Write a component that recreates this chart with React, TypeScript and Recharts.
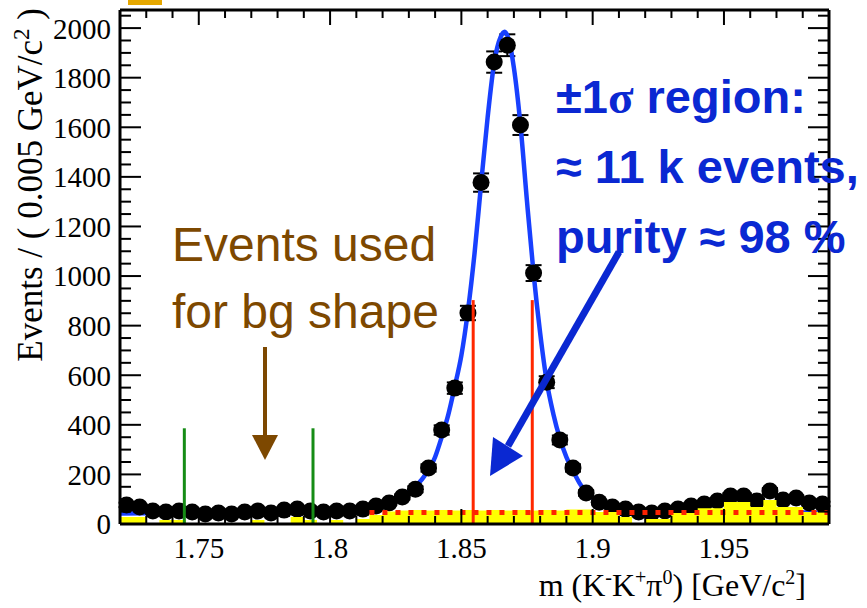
import { ComposedChart, XAxis, YAxis, Line, Area, Scatter, ErrorBar, ReferenceLine } from 'recharts';

const W = 867;
const H = 608;

// mass bins, 0.005 GeV/c^2 wide (bin centres)
const binCenters = [
  1.7225, 1.7275, 1.7325, 1.7375, 1.7425, 1.7475, 1.7525, 1.7575, 1.7625, 1.7675,
  1.7725, 1.7775, 1.7825, 1.7875, 1.7925, 1.7975, 1.8025, 1.8075, 1.8125, 1.8175,
  1.8225, 1.8275, 1.8325, 1.8375, 1.8425, 1.8475, 1.8525, 1.8575, 1.8625, 1.8675,
  1.8725, 1.8775, 1.8825, 1.8875, 1.8925, 1.8975, 1.9025, 1.9075, 1.9125, 1.9175,
  1.9225, 1.9275, 1.9325, 1.9375, 1.9425, 1.9475, 1.9525, 1.9575, 1.9625, 1.9675,
  1.9725, 1.9775, 1.9825, 1.9875,
];

// data counts per bin
const counts = [
  77, 69, 52, 48, 52, 48, 40, 44, 40, 48,
  52, 44, 56, 60, 52, 48, 52, 52, 60, 73,
  85, 109, 140, 226, 379, 548, 851, 1377, 1863, 1931,
  1609, 1012, 572, 339, 226, 125, 88, 69, 60, 48,
  44, 52, 60, 73, 81, 93, 113, 113, 93, 133,
  97, 105, 85, 81,
];

const countErrors = [
  9, 8, 7, 7, 7, 7, 6, 7, 6, 7,
  7, 7, 7, 8, 7, 7, 7, 7, 8, 9,
  9, 10, 12, 15, 19, 23, 29, 37, 43, 44,
  40, 32, 24, 18, 15, 11, 9, 8, 8, 7,
  7, 7, 8, 9, 9, 10, 11, 11, 10, 12,
  10, 10, 9, 9,
];

// background shape histogram (yellow)
const bgShape = [
  28, 28, 0, 16, 16, 0, 0, 0, 0, 0,
  16, 0, 0, 28, 16, 0, 16, 0, 20, 36,
  50, 54, 56, 54, 56, 54, 56, 54, 56, 54,
  56, 54, 56, 54, 58, 58, 48, 48, 28, 0,
  20, 20, 44, 44, 64, 64, 89, 89, 69, 97,
  69, 69, 48, 48,
];

// fit curve (signal + background)
const fitMass = [
  1.72, 1.74, 1.76, 1.78, 1.8, 1.81, 1.82, 1.825, 1.83, 1.835,
  1.84, 1.8425, 1.845, 1.8475, 1.85, 1.8525, 1.855, 1.8575, 1.86, 1.8625,
  1.865, 1.8665, 1.868, 1.87, 1.8725, 1.875, 1.8775, 1.88, 1.8825, 1.885,
  1.8875, 1.89, 1.8925, 1.895, 1.8975, 1.9, 1.905, 1.91, 1.92, 1.94,
  1.96, 1.99,
];
const fitEvents = [
  42, 44, 46, 50, 58, 68, 88, 105, 130, 180,
  270, 350, 440, 555, 680, 860, 1090, 1370, 1640, 1860,
  1965, 1985, 1955, 1840, 1610, 1300, 1010, 770, 575, 445,
  345, 270, 215, 165, 128, 105, 78, 62, 52, 48,
  47, 46,
];

// background level of the fit (red dotted)
const bgLevelMass = [1.815, 1.99];
const bgLevelEvents = [46, 46];

const sidebandCuts = [1.7445, 1.7935];
const signalCuts = [1.8545, 1.877];
const sidebandCutHeight = 386;
const signalCutHeight = 903;

const xTicks = [
  1.73, 1.74, 1.75, 1.76, 1.77, 1.78, 1.79, 1.8, 1.81, 1.82, 1.83, 1.84, 1.85,
  1.86, 1.87, 1.88, 1.89, 1.9, 1.91, 1.92, 1.93, 1.94, 1.95, 1.96, 1.97, 1.98,
];
const xLabelValues = [1.75, 1.8, 1.85, 1.9, 1.95];
const xLabels = ['1.75', '1.8', '1.85', '1.9', '1.95'];
const yTicks = [
  0, 50, 100, 150, 200, 250, 300, 350, 400, 450, 500, 550, 600, 650, 700, 750,
  800, 850, 900, 950, 1000, 1050, 1100, 1150, 1200, 1250, 1300, 1350, 1400, 1450,
  1500, 1550, 1600, 1650, 1700, 1750, 1800, 1850, 1900, 1950, 2000, 2050,
];
const yLabelValues = [0, 200, 400, 600, 800, 1000, 1200, 1400, 1600, 1800, 2000];

const X_DOMAIN: [number, number] = [1.72, 1.99];
const Y_DOMAIN: [number, number] = [0, 2073];
const BIN_WIDTH = 0.005;

const SERIF = '"Liberation Serif", "Times New Roman", serif';
const SANS = '"Liberation Sans", Arial, sans-serif';
const BROWN = '#7d4800';
const BLUE = '#0a28d2';

const dataRows = binCenters.map((x, i) => ({ x, y: counts[i], err: countErrors[i], xErr: BIN_WIDTH / 2 }));
const bgRows = [
  ...binCenters.map((x, i) => ({ x: x - BIN_WIDTH / 2, y: bgShape[i] })),
  { x: X_DOMAIN[1], y: bgShape[bgShape.length - 1] },
];
const fitRows = fitMass.map((x, i) => ({ x, y: fitEvents[i] }));
const bgLevelRows = bgLevelMass.map((x, i) => ({ x, y: bgLevelEvents[i] }));

const near = (a: number, b: number) => Math.abs(a - b) < 1e-6;

function BottomTick({ x, y, payload }: any) {
  const i = xLabelValues.findIndex((v) => near(v, payload.value));
  const major = i >= 0;
  return (
    <g>
      <line x1={x} y1={y} x2={x} y2={y - (major ? 15 : 8)} stroke="#000" strokeWidth={2} />
      {major && (
        <text x={x} y={y + 34} textAnchor="middle" fontFamily={SERIF} fontSize={29} fill="#000">
          {xLabels[i]}
        </text>
      )}
    </g>
  );
}

function TopTick({ x, y, payload }: any) {
  const major = xLabelValues.some((v) => near(v, payload.value));
  return <line x1={x} y1={y} x2={x} y2={y + (major ? 15 : 8)} stroke="#000" strokeWidth={2} />;
}

function LeftTick({ x, y, payload }: any) {
  const major = yLabelValues.some((v) => near(v, payload.value));
  return (
    <g>
      <line x1={x} y1={y} x2={x + (major ? 21 : 11)} y2={y} stroke="#000" strokeWidth={2} />
      {major && (
        <text x={x - 9} y={y} dy="0.36em" textAnchor="end" fontFamily={SERIF} fontSize={29} fill="#000">
          {payload.value}
        </text>
      )}
    </g>
  );
}

function RightTick({ x, y, payload }: any) {
  const major = yLabelValues.some((v) => near(v, payload.value));
  return <line x1={x} y1={y} x2={x - (major ? 21 : 11)} y2={y} stroke="#000" strokeWidth={2} />;
}

const axisLine = { stroke: '#000', strokeWidth: 3 };

export default function App() {
  return (
    <div style={{ position: 'absolute', left: 0, top: 0, width: W, height: H, background: '#fff' }}>
      <ComposedChart width={W} height={H} margin={{ top: 0, right: 0, bottom: 0, left: 0 }}>
        <Line
          data={fitRows}
          dataKey="y"
          type="monotone"
          stroke="#1840ff"
          strokeWidth={4.5}
          dot={false}
          activeDot={false}
          isAnimationActive={false}
          zIndex={420}
        />
        <Scatter
          data={dataRows}
          dataKey="y"
          fill="#000"
          isAnimationActive={false}
          zIndex={440}
          shape={(p: any) => <circle cx={p.cx} cy={p.cy} r={8.5} fill="#000" />}
        >
          <ErrorBar dataKey="err" direction="y" width={8} strokeWidth={2} stroke="#000" />
          <ErrorBar dataKey="xErr" direction="x" width={0} strokeWidth={2} stroke="#000" />
        </Scatter>
        <Area
          data={bgRows}
          dataKey="y"
          type="stepAfter"
          stroke="none"
          fill="#ffff00"
          fillOpacity={1}
          dot={false}
          activeDot={false}
          isAnimationActive={false}
          zIndex={460}
        />
        <Line
          data={bgLevelRows}
          dataKey="y"
          type="linear"
          stroke="#ff2200"
          strokeWidth={5}
          strokeDasharray="5 8"
          dot={false}
          activeDot={false}
          isAnimationActive={false}
          zIndex={470}
        />
        {sidebandCuts.map((m) => (
          <ReferenceLine
            key={`sb${m}`}
            segment={[{ x: m, y: 0 }, { x: m, y: sidebandCutHeight }]}
            stroke="#168c16"
            strokeWidth={3}
            zIndex={480}
          />
        ))}
        {signalCuts.map((m) => (
          <ReferenceLine
            key={`sig${m}`}
            segment={[{ x: m, y: 0 }, { x: m, y: signalCutHeight }]}
            stroke="#ff2800"
            strokeWidth={3}
            zIndex={480}
          />
        ))}
        <XAxis
          dataKey="x"
          type="number"
          domain={X_DOMAIN}
          allowDataOverflow
          ticks={xTicks}
          interval={0}
          height={84}
          tickSize={0}
          tickMargin={0}
          tickLine={false}
          axisLine={axisLine}
          tick={<BottomTick />}
        />
        <XAxis
          xAxisId="top"
          orientation="top"
          dataKey="x"
          type="number"
          domain={X_DOMAIN}
          allowDataOverflow
          ticks={xTicks}
          interval={0}
          height={10}
          tickSize={0}
          tickMargin={0}
          tickLine={false}
          axisLine={axisLine}
          tick={<TopTick />}
        />
        <YAxis
          dataKey="y"
          type="number"
          domain={Y_DOMAIN}
          allowDataOverflow
          ticks={yTicks}
          interval={0}
          width={120}
          tickSize={0}
          tickMargin={0}
          tickLine={false}
          axisLine={axisLine}
          tick={<LeftTick />}
        />
        <YAxis
          yAxisId="right"
          orientation="right"
          type="number"
          domain={Y_DOMAIN}
          allowDataOverflow
          ticks={yTicks}
          interval={0}
          width={38}
          tickSize={0}
          tickMargin={0}
          tickLine={false}
          axisLine={axisLine}
          tick={<RightTick />}
        />
      </ComposedChart>

      <svg width={W} height={H} style={{ position: 'absolute', left: 0, top: 0, pointerEvents: 'none' }}>
        <rect x={128} y={0} width={34} height={5} fill="#e6a800" />

        {/* axis titles */}
        <text transform="translate(42,8) rotate(-90)" textAnchor="end" fontFamily={SERIF} fontSize={35} fill="#000">
          Events / ( 0.005 GeV/c<tspan dy={-13} fontSize={23}>2</tspan>
          <tspan dy={13}> )</tspan>
        </text>
        <text x={806} y={596} textAnchor="end" fontFamily={SERIF} fontSize={32} fill="#000">
          m (K<tspan dy={-12} fontSize={20}>-</tspan>
          <tspan dy={12}>K</tspan>
          <tspan dy={-12} fontSize={20}>+</tspan>
          <tspan dy={12}>π</tspan>
          <tspan dy={-12} fontSize={20}>0</tspan>
          <tspan dy={12}>) [GeV/c</tspan>
          <tspan dy={-12} fontSize={20}>2</tspan>
          <tspan dy={12}>]</tspan>
        </text>

        {/* sideband note */}
        <text x={172} y={261} fontFamily={SANS} fontSize={48} fill={BROWN}>Events used</text>
        <text x={172} y={328} fontFamily={SANS} fontSize={48} fill={BROWN}>for bg shape</text>
        <line x1={265} y1={347} x2={265} y2={437} stroke={BROWN} strokeWidth={4} />
        <polygon points="252,435 278,435 265,460" fill={BROWN} />

        {/* signal region note */}
        <text x={556} y={113} fontFamily={SANS} fontSize={47} fontWeight="bold" fill={BLUE}>
          ±1<tspan fontFamily={SERIF}>σ</tspan> region:
        </text>
        <text x={556} y={183} fontFamily={SANS} fontSize={47} fontWeight="bold" fill={BLUE}>≈ 11 k events,</text>
        <text x={556} y={253} fontFamily={SANS} fontSize={47} fontWeight="bold" fill={BLUE}>purity ≈ 98 %</text>
        <line x1={619} y1={252} x2={508} y2={446} stroke={BLUE} strokeWidth={7} />
        <polygon points="490,476 493,437 523,456" fill={BLUE} />
      </svg>
    </div>
  );
}
